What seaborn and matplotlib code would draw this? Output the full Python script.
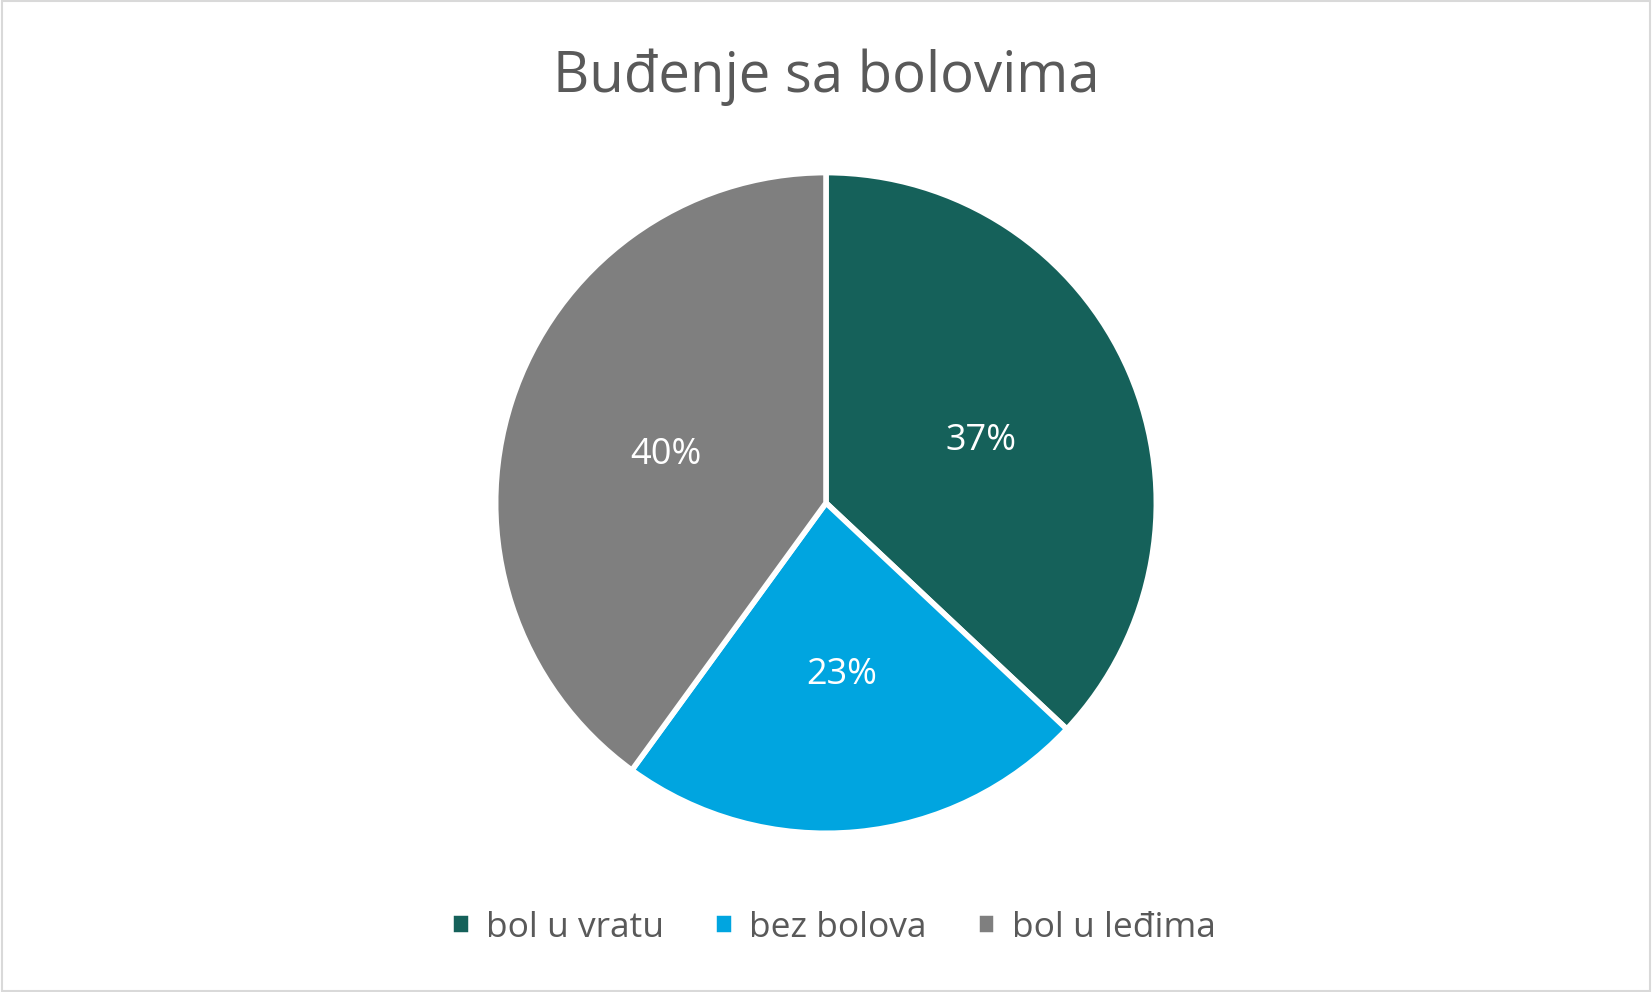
import matplotlib.pyplot as plt
import seaborn as sns
from matplotlib.patches import Rectangle

labels = ["bol u vratu", "bez bolova", "bol u leđima"]
shares = [37, 23, 40]
colors = ["#15615A", "#00A5E0", "#7F7F7F"]

sns.set_theme(style="white")
plt.rcParams["font.family"] = ["Open Sans", "DejaVu Sans"]

fig = plt.figure(figsize=(16.52, 9.92), dpi=100)
r = 0.333
ax = fig.add_axes([0.5 - r * 992 / 1652, 0.493 - r, 2 * r * 992 / 1652, 2 * r])

wedges, texts, autotexts = ax.pie(
    shares,
    colors=colors,
    startangle=90,
    counterclock=False,
    autopct="%d%%",
    pctdistance=0.51,
    wedgeprops=dict(edgecolor="white", linewidth=4),
    textprops=dict(color="white", fontsize=26),
)
for t in autotexts:
    t.set_va("center_baseline")
ax.set_xlim(-1.0, 1.0)
ax.set_ylim(-1.0, 1.0)
ax.set_aspect("equal")

fig.text(0.5, 0.922, "Buđenje sa bolovima", ha="center", va="center",
         fontsize=40.5, color="#595959")

leg = fig.legend(wedges, labels, loc="center", bbox_to_anchor=(0.5045, 0.065),
                 ncol=3, frameon=False, fontsize=25.5, handlelength=0.55,
                 handleheight=0.55, handletextpad=0.45, columnspacing=1.4)
for t in leg.get_texts():
    t.set_color("#595959")

fig.patches.append(Rectangle((0.001, 0.001), 0.998, 0.998, transform=fig.transFigure,
                             fill=False, edgecolor="#D9D9D9", linewidth=1.5))

fig.savefig("out.png", dpi=100, facecolor="white")
